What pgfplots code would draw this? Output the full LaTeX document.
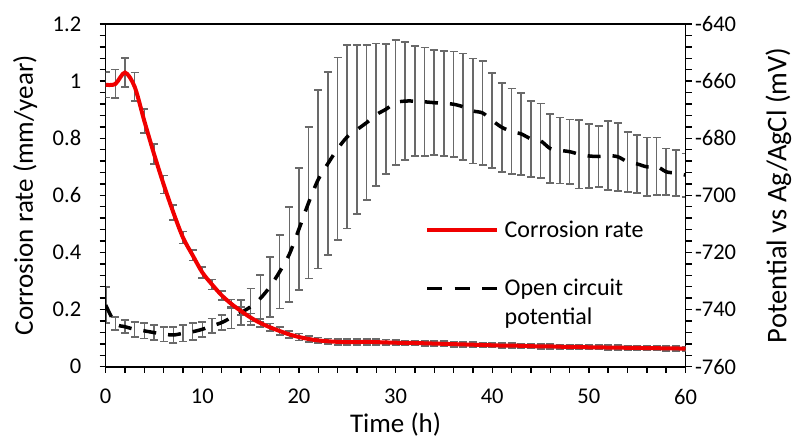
\documentclass[border=0pt]{standalone}
\usepackage{pgfplots}
\pgfplotsset{compat=1.18}
\usepackage{pgfplotstable}
\usepackage{fontspec}
\setmainfont{Carlito}

\definecolor{bargray}{RGB}{105,105,105}
\definecolor{ratered}{RGB}{240,0,0}

% Corrosion rate (mm/year): time, mean, error
\pgfplotstableread{
t  v      e
0  0.987  0.045
1  0.990  0.050
2  1.030  0.050
3  0.980  0.050
4  0.860  0.042
5  0.745  0.035
6  0.638  0.031
7  0.540  0.026
8  0.452  0.021
9  0.390  0.018
10 0.330  0.020
11 0.288  0.018
12 0.250  0.016
13 0.220  0.015
14 0.195  0.015
15 0.172  0.014
16 0.153  0.014
17 0.138  0.013
18 0.125  0.013
19 0.113  0.012
20 0.104  0.012
21 0.097  0.011
22 0.092  0.010
23 0.089  0.010
24 0.087  0.010
25 0.086  0.010
26 0.086  0.010
27 0.087  0.010
28 0.086  0.010
29 0.085  0.010
30 0.084  0.009
31 0.083  0.009
32 0.083  0.009
33 0.082  0.009
34 0.081  0.009
35 0.080  0.009
36 0.079  0.009
37 0.078  0.009
38 0.077  0.009
39 0.076  0.009
40 0.075  0.008
41 0.074  0.008
42 0.074  0.008
43 0.073  0.008
44 0.072  0.008
45 0.071  0.008
46 0.071  0.008
47 0.070  0.008
48 0.069  0.008
49 0.069  0.008
50 0.068  0.008
51 0.068  0.008
52 0.067  0.008
53 0.067  0.008
54 0.066  0.008
55 0.066  0.008
56 0.065  0.008
57 0.065  0.008
58 0.064  0.008
59 0.064  0.008
60 0.063  0.008
}\rate

% Open circuit potential (mV vs Ag/AgCl): time, mean, error
\pgfplotstableread{
t  v        e
0  -738.4   6.4
1  -744.85  2.35
2  -746.0   2.3
3  -746.9   2.6
4  -747.45  2.65
5  -748.05  2.65
6  -748.6   2.6
7  -748.9   2.9
8  -748.3   2.9
9  -747.75  2.95
10 -746.9   2.6
11 -745.7   2.6
12 -744.55  2.65
13 -742.8   3.8
14 -741.05  4.35
15 -739.0   6.4
16 -736.1   8.2
17 -732.0   10.5
18 -726.75  12.85
19 -720.65  16.65
20 -711.8   21.4
21 -702.55  26.55
22 -694.4   31.2
23 -688.85  32.05
24 -683.7   32.0
25 -679.5   32.1
26 -677.0   29.6
27 -674.55  27.15
28 -671.75  24.95
29 -669.85  22.75
30 -667.55  21.85
31 -667.0   20.7
32 -667.0   19.3
33 -667.25  19.05
34 -667.55  18.35
35 -667.8   18.4
36 -668.1   18.4
37 -669.0   18.7
38 -670.45  18.35
39 -671.15  18.25
40 -673.8   16.7
41 -676.2   15.6
42 -677.6   15.0
43 -678.5   14.4
44 -680.2   13.3
45 -680.9   13.1
46 -683.6   12.0
47 -684.25  11.55
48 -684.7   11.3
49 -685.6   11.95
50 -686.2   11.15
51 -686.4   10.6
52 -686.1   12.1
53 -686.5   11.9
54 -688.25  10.5
55 -689.0   10.1
56 -690.0   10.3
57 -689.8   10.1
58 -691.75  8.15
59 -692.2   8.0
60 -692.9   7.6
}\ocp

\pgfplotsset{
  common/.style={
    scale only axis, width=579.8bp, height=342.7bp,
    at={(0,0)}, anchor=south west,
    xmin=0, xmax=60,
    tick align=outside,
    major tick length=6bp, minor tick length=6bp,
    every tick/.style={black, line width=1.4bp},
    axis line style={line width=1.6bp},
    tick label style={font=\fontsize{22.5bp}{27bp}\selectfont},
    label style={font=\fontsize{27bp}{32bp}\selectfont},
    /pgf/number format/assume math mode=true,
  },
  % error bars only: no line and no marks
  bars/.style={
    draw=none, mark=none,
    error bars/y dir=both,
    error bars/y explicit,
    error bars/error bar style={draw=bargray, line width=1.6bp, solid},
    error bars/error mark options={draw=bargray, rotate=90, mark size=4bp, line width=1.6bp, solid},
  },
}

\begin{document}
\begin{tikzpicture}
\useasboundingbox (-105.7bp,-76.3bp) rectangle (686.3bp,366.7bp);

% secondary axis: open circuit potential
\begin{axis}[
  common,
  ymin=-760, ymax=-640,
  ytick={-760,-740,...,-640},
  minor y tick num=4,
  axis x line=none,
  axis y line*=right,
  ylabel={Potential vs Ag/AgCl (mV)},
  ylabel style={at={(axis description cs:1.160,0.5)}, anchor=center,
    font=\fontsize{28.5bp}{33bp}\selectfont},
]
\addplot[bars] table[x=t, y=v, y error=e] {\ocp};
\addplot[black, line width=3.5bp, dash pattern=on 13bp off 12bp, smooth]
  table[x=t, y=v] {\ocp};
\end{axis}

% primary axis: corrosion rate
\begin{axis}[
  common,
  ymin=0, ymax=1.2,
  ytick={0,0.2,...,1.2},
  xtick={0,10,...,60},
  minor x tick num=4,
  minor y tick num=4,
  xtick pos=bottom, ytick pos=left,
  yticklabel style={xshift=-15bp},
  xticklabel style={yshift=-13bp},
  xlabel={Time (h)},
  ylabel={Corrosion rate (mm/year)},
  xlabel style={at={(axis description cs:0.5,-0.170)}, anchor=center},
  ylabel style={at={(axis description cs:-0.139,0.5)}, anchor=center},
  legend image code/.code={\draw[#1] (0bp,7.5bp) -- (70bp,7.5bp);},
  legend cell align=left,
  legend style={
    at={(rel axis cs:0.5507,0.429)}, anchor=north west,
    draw=none, fill=none, inner sep=0pt,
    font=\fontsize{24bp}{28bp}\selectfont,
    column sep=5.5bp, row sep=6bp,
    cells={anchor=base west},
    nodes={inner sep=0pt, text height=18bp, text depth=5bp},
  },
]
\addplot[forget plot, bars] table[x=t, y=v, y error=e] {\rate};
\addplot[ratered, line width=4bp, smooth] table[x=t, y=v] {\rate};
\addlegendentry[text depth=34bp]{Corrosion rate}
\addlegendimage{black, line width=3.5bp, dash pattern=on 15bp off 12.5bp}
\addlegendentry{Open circuit}
\addlegendimage{legend image code/.code={}}
\addlegendentry{potential}
\end{axis}
\end{tikzpicture}
\end{document}
